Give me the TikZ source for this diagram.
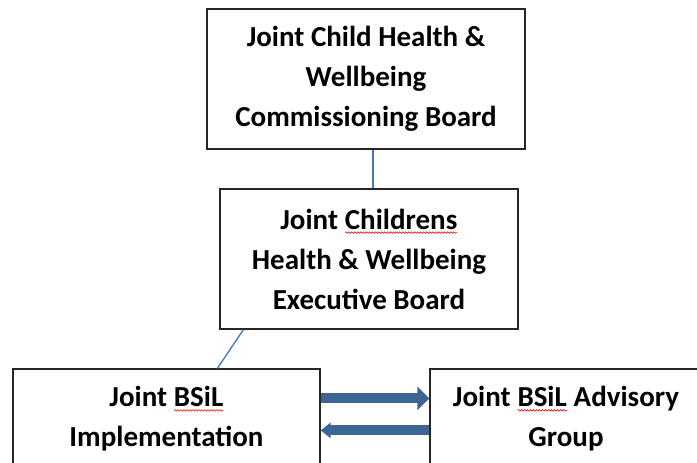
\documentclass[tikz,border=0pt]{standalone}
\usepackage{fontspec}
\setmainfont{Carlito}
\usetikzlibrary{arrows.meta,decorations.pathmorphing}

\definecolor{linkblue}{RGB}{68,114,196}
\definecolor{arrowblue}{RGB}{62,100,148}
% red spell-check wave under a word
\newcommand\spellwave[1]{\tikz[baseline=(w.base)]{%
  \node[draw=none, inner sep=0pt, outer sep=0pt, minimum width=0pt, minimum height=0pt] (w) {#1};
  \draw[red, line width=0.6pt, decorate, decoration={snake,amplitude=0.8pt,segment length=3pt}]
    ([yshift=-3.5pt]w.base west) -- ([yshift=-3.5pt]w.base east);}}

\begin{document}
\begin{tikzpicture}[x=1pt,y=1pt]
\tikzstyle{every node}=[font=\fontsize{29}{40}\selectfont\bfseries]
\tikzset{
  board/.style={draw=black!85, line width=1.2pt, align=center, inner sep=0pt},
  link/.style={draw=linkblue, line width=1.3pt},
  flow/.style={draw=arrowblue, line width=10pt}
}
\clip (0,0) rectangle (697,-463);

\node[board, minimum width=318, minimum height=140] (cb) at (366,-79)
  {Joint Child Health \&\\Wellbeing\\Commissioning Board};
\node[board, minimum width=298, minimum height=140] (eb) at (369,-259)
  {Joint \spellwave{Childrens}\\Health \& Wellbeing\\Executive Board};
\node[board, minimum width=307, minimum height=100] (impl) at (166.5,-419)
  {Joint \spellwave{BSiL}\\Implementation};
\node[board, minimum width=272, minimum height=100] (adv) at (566,-419)
  {Joint \spellwave{BSiL} Advisory\\Group};

\draw[link] ([xshift=7pt]cb.south) -- ([xshift=4pt]eb.north);
\draw[link] ([xshift=24pt]eb.south west) -- ([xshift=205pt]impl.north west);

\draw[flow, -{Triangle[length=12pt,width=23pt]}]
  ([yshift=-30pt]impl.north east) -- ([yshift=-30pt]adv.north west);
\draw[flow, -{Triangle[length=10pt,width=15pt]}]
  ([yshift=-62pt]adv.north west) -- ([yshift=-62pt]impl.north east);
\end{tikzpicture}
\end{document}
